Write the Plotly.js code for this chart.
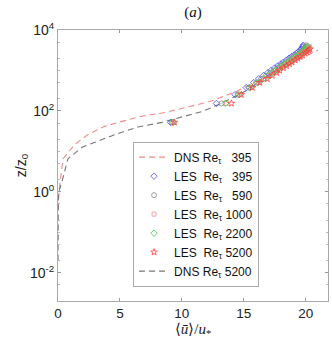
<!DOCTYPE html>
<html>
<head>
<meta charset="utf-8">
<script src="https://cdn.plot.ly/plotly-3.0.1.min.js"></script>
<style>html,body{margin:0;padding:0;background:#fff;}#chart{width:332px;height:342px;}</style>
</head>
<body>
<div id="chart"></div>
<script>
// DNS profiles: mean velocity u/u* vs z/z0
const zDNS395 = [0.38, 1, 6.5, 15, 26, 42, 55, 74, 91, 170, 302, 631, 1259, 1995, 3200];
const uDNS395 = [0.03, 0.08, 0.4, 1.37, 2.42, 3.8, 5.16, 6.77, 8.63, 12.26, 14.4, 16.5, 18.4, 19.7, 21.0];
const zDNS5200 = [0.02, 0.1, 0.9, 1.8, 6.5, 12.6, 17.8, 26, 40, 52, 98, 160, 316, 1000, 3162, 3900];
const uDNS5200 = [0.0, 0.005, 0.03, 0.32, 0.8, 1.94, 3.23, 4.6, 6.45, 8.39, 11.7, 13.3, 15.2, 17.8, 19.9, 20.2];

// LES profiles (shared heights z/z0)
const zLES = [52, 153, 252, 377, 500, 620, 750, 880, 1000, 1150, 1300, 1450, 1600, 1800, 2000, 2200, 2400, 2650, 2900, 3150, 3400, 3650, 3900, 4200];
const uLES395  = [9.1, 12.8, 14.3, 15.2, 15.8, 16.2, 16.6, 16.95, 17.2, 17.5, 17.75, 18.0, 18.2, 18.45, 18.65, 18.85, 19.05, 19.25, 19.4, 19.55, 19.65, 19.72, 19.77, 19.8];
const uLES590  = [9.2, 13.2, 14.5, 15.4, 16.0, 16.4, 16.8, 17.15, 17.4, 17.7, 17.95, 18.2, 18.4, 18.65, 18.85, 19.05, 19.25, 19.45, 19.6, 19.75, 19.85, 19.95, 20.0, 20.05];
const uLES1000 = [9.3, 13.6, 14.7, 15.6, 16.2, 16.7, 17.1, 17.45, 17.7, 18.0, 18.25, 18.5, 18.7, 18.95, 19.15, 19.35, 19.55, 19.75, 19.9, 20.05, 20.15, 20.25, 20.3];
const uLES2200 = [9.3, 13.5, 14.6, 15.5, 16.1, 16.55, 16.95, 17.3, 17.55, 17.85, 18.1, 18.35, 18.55, 18.8, 19.0, 19.2, 19.4, 19.6, 19.75, 19.9, 20.0, 20.1, 20.15];
const uLES5200 = [9.4, 14.0, 14.8, 15.7, 16.3, 16.9, 17.3, 17.65, 17.9, 18.2, 18.45, 18.7, 18.9, 19.15, 19.35, 19.55, 19.75, 19.95, 20.1, 20.25, 20.35];

const names = [
  "DNS Re<sub>τ</sub>\u00a0\u00a0\u00a0395",
  "LES\u00a0 Re<sub>τ</sub>\u00a0\u00a0\u00a0395",
  "LES\u00a0 Re<sub>τ</sub>\u00a0\u00a0\u00a0590",
  "LES\u00a0 Re<sub>τ</sub> 1000",
  "LES\u00a0 Re<sub>τ</sub> 2200",
  "LES\u00a0 Re<sub>τ</sub> 5200",
  "DNS Re<sub>τ</sub> 5200"
];
const yTickVals = [0.01, 1, 100, 10000];
const yTickText = ["10<sup>-2</sup>", "10<sup>0</sup>", "10<sup>2</sup>", "10<sup>4</sup>"];
const xTickVals = [0, 5, 10, 15, 20];

const mk = (sym, col, size) => ({symbol: sym, color: col, size: size, line: {color: col, width: 0.8}});

const data = [
  {x: uDNS395, y: zDNS395, mode: 'lines', name: names[0], legendrank: 1,
   line: {color: '#f08a8a', dash: '6px,4px', width: 1.1}},
  {x: uDNS5200, y: zDNS5200, mode: 'lines', name: names[6], legendrank: 7,
   line: {color: '#777777', dash: '6px,4px', width: 1.1}},
  {x: uLES395, y: zLES.slice(0, uLES395.length), mode: 'markers', name: names[1], legendrank: 2,
   marker: mk('diamond-open', '#4a4aff', 5)},
  {x: uLES590, y: zLES.slice(0, uLES590.length), mode: 'markers', name: names[2], legendrank: 3,
   marker: mk('circle-open', '#888888', 5)},
  {x: uLES1000, y: zLES.slice(0, uLES1000.length), mode: 'markers', name: names[3], legendrank: 4,
   marker: mk('square-open', '#f09090', 4)},
  {x: uLES2200, y: zLES.slice(0, uLES2200.length), mode: 'markers', name: names[4], legendrank: 5,
   marker: mk('diamond-open', '#44cc44', 5)},
  {x: uLES5200, y: zLES.slice(0, uLES5200.length), mode: 'markers', name: names[5], legendrank: 6,
   marker: mk('star-open', '#ff4040', 5)}
];

const layout = {
  width: 332, height: 342,
  margin: {l: 58, r: 4, t: 30, b: 41},
  paper_bgcolor: '#fff', plot_bgcolor: '#fff',
  showlegend: true,
  title: {text: '(<i>a</i>)', x: 0.5, xref: 'paper', y: 0.965, yanchor: 'middle',
          font: {family: 'Liberation Serif', size: 15, color: '#111'}},
  font: {family: 'Liberation Sans, Arial, sans-serif', size: 13, color: '#222'},
  xaxis: {
    range: [0, 21.8], tickvals: xTickVals, ticks: 'inside', ticklen: 3, tickcolor: '#999',
    showline: true, linecolor: '#aaa', linewidth: 1, mirror: 'ticks', showgrid: false, zeroline: false,
    tickfont: {size: 13.5, color: '#222'},
    title: {text: '⟨<i>u\u0304</i>⟩/<i>u</i><sub>*</sub>', standoff: 3,
            font: {family: 'Liberation Serif', size: 15, color: '#222'}}
  },
  yaxis: {
    type: 'log', range: [-2.7, 4], tickvals: yTickVals, ticktext: yTickText,
    ticks: 'inside', ticklen: 3, tickcolor: '#999',
    minor: {ticks: 'inside', ticklen: 2, tickcolor: '#bbb'},
    showline: true, linecolor: '#aaa', linewidth: 1, mirror: 'ticks', showgrid: false, zeroline: false,
    tickfont: {size: 14, color: '#222'},
    title: {text: 'z/z<sub>0</sub>', standoff: 0,
            font: {family: 'Liberation Sans', size: 14, color: '#222'}}
  },
  legend: {
    x: 0.278, y: 0.588, xanchor: 'left', yanchor: 'top',
    bgcolor: '#fff', bordercolor: '#aaa', borderwidth: 1,
    font: {family: 'Liberation Sans', size: 12, color: '#111'},
    itemwidth: 30, tracegroupgap: 0
  }
};

Plotly.newPlot('chart', data, layout, {displayModeBar: false, staticPlot: true});
</script>
</body>
</html>
